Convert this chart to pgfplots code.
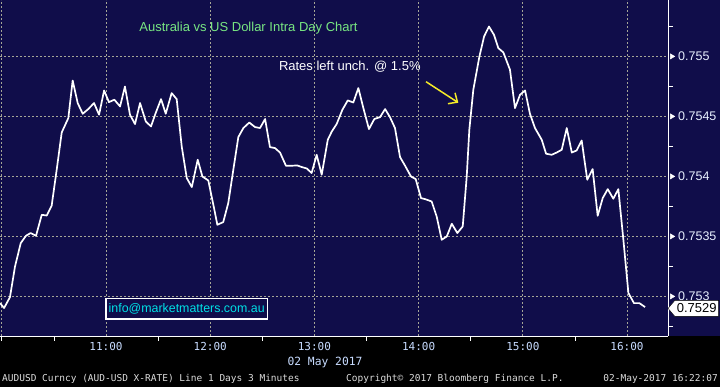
\documentclass[border=0pt]{standalone}
\usepackage{pgfplots}
\pgfplotsset{compat=1.18}
\usepackage{fontspec}
\setmainfont{Liberation Sans}
\newfontfamily\monofont{DejaVu Sans Mono}
\usetikzlibrary{arrows.meta,shapes.symbols}
\definecolor{navy}{RGB}{16,13,74}
\definecolor{gridc}{RGB}{165,165,150}
\definecolor{labc}{RGB}{200,220,255}
\definecolor{ylabc}{RGB}{232,240,255}
\definecolor{titlec}{RGB}{120,230,130}
\definecolor{mailc}{RGB}{0,225,230}
\definecolor{arrowc}{RGB}{245,235,40}
\definecolor{footc}{RGB}{220,220,220}

\pgfplotstableread{
x y
-1.0 0.752944
1.3 0.752903
4.7 0.752994
7.6 0.753249
10.9 0.753444
13.9 0.753505
16.6 0.753528
19.7 0.753505
23.0 0.753680
25.9 0.753674
28.7 0.753755
31.6 0.754055
34.5 0.754366
38.3 0.754486
40.8 0.754799
43.7 0.754611
46.6 0.754522
49.8 0.754561
53.1 0.754611
56.0 0.754514
58.9 0.754716
61.7 0.754619
64.8 0.754639
68.1 0.754583
70.9 0.754749
73.8 0.754514
76.7 0.754436
79.6 0.754611
82.9 0.754458
85.9 0.754416
88.6 0.754528
91.7 0.754644
94.4 0.754522
97.8 0.754694
100.7 0.754644
103.6 0.754249
106.5 0.753986
109.4 0.753911
112.8 0.754139
115.5 0.753999
118.9 0.753966
122.4 0.753722
124.1 0.753597
127.5 0.753619
130.4 0.753778
133.3 0.754055
136.2 0.754328
139.1 0.754403
142.5 0.754449
145.8 0.754411
148.7 0.754403
151.6 0.754478
154.4 0.754244
157.3 0.754236
160.2 0.754199
163.6 0.754089
166.9 0.754089
170.2 0.754091
172.7 0.754078
175.6 0.754066
178.4 0.754028
181.3 0.754180
184.2 0.754014
187.7 0.754305
190.0 0.754374
192.8 0.754436
196.1 0.754555
199.2 0.754633
202.4 0.754616
205.3 0.754736
208.2 0.754569
211.4 0.754394
214.5 0.754478
217.8 0.754494
220.7 0.754561
223.5 0.754494
226.4 0.754403
229.3 0.754161
232.2 0.754089
235.6 0.753999
238.3 0.753978
241.4 0.753819
243.7 0.753811
247.5 0.753791
250.4 0.753666
253.3 0.753472
256.2 0.753499
259.1 0.753605
262.3 0.753528
265.4 0.753583
267.7 0.753999
269.2 0.754389
271.5 0.754722
275.0 0.754999
277.7 0.755166
280.5 0.755249
283.4 0.755180
285.9 0.755069
288.8 0.755033
292.6 0.754889
295.5 0.754569
298.4 0.754680
301.3 0.754716
304.1 0.754522
307.0 0.754403
310.9 0.754305
313.4 0.754189
316.6 0.754180
319.5 0.754199
322.4 0.754222
325.3 0.754403
328.2 0.754199
331.0 0.754216
333.9 0.754299
337.1 0.753972
340.2 0.754061
343.1 0.753672
346.0 0.753819
348.9 0.753894
352.1 0.753814
355.0 0.753894
357.9 0.753472
360.8 0.753028
364.0 0.752944
367.1 0.752944
370.4 0.752911
}\audusd

\begin{document}
\begin{tikzpicture}
\useasboundingbox (0pt,0pt) rectangle (720pt,387pt);
\fill[black] (0pt,0pt) rectangle (720pt,51pt);
\fill[navy] (0pt,51pt) rectangle (720pt,387pt);
\begin{axis}[
  at={(0pt,51pt)}, anchor=south west,
  scale only axis, width=668pt, height=336pt,
  xmin=-1.04, xmax=383.6, ymin=0.75267, ymax=0.75547,
  axis x line*=bottom, axis y line*=right,
  axis line style={white, line width=0.8pt, -},
  xtick={0,60,120,180,240,300,360},
  xticklabels={,11:00,12:00,13:00,14:00,15:00,16:00},
  minor xtick={0,30,90,150,210,270,330},
  ytick={0.753,0.7535,0.754,0.7545,0.755},
  yticklabels={0.753,0.7535,0.754,0.7545,0.755},
  minor ytick={0.75275,0.75325,0.75375,0.75425,0.75475,0.75525},
  xmajorgrids, ymajorgrids,
  major grid style={dash pattern=on 2pt off 2pt, color=gridc, line width=0.7pt},
  tick align=outside, major tick length=0pt, minor tick length=5pt,
  tick style={white, line width=0.8pt},
  xticklabel style={font=\monofont\fontsize{11}{13}\selectfont, text=labc, anchor=north, inner sep=0pt, yshift=-6pt},
  yticklabel style={font=\fontsize{12.5}{14}\selectfont, text=ylabc, anchor=west, inner sep=0pt, xshift=10pt},
  clip=false,
]
\addplot[white, line width=1.7pt, line join=round] table[x=x,y=y] {\audusd};
\addplot[only marks, mark=triangle*, mark size=3pt, mark options={rotate=-90, fill=white, draw=white}]
  coordinates {(385.8,0.753) (385.8,0.7535) (385.8,0.754) (385.8,0.7545) (385.8,0.755)};
\node[signal, signal to=west, signal pointer angle=100, fill=white, draw=black, line width=0.4pt,
  text=black, font=\fontsize{13}{15}\selectfont, inner xsep=2pt, inner ysep=2pt, minimum height=16pt, anchor=west]
  at (axis cs:383.5,0.7529) {0.7529};
\end{axis}
\node[text=titlec, font=\fontsize{13}{15}\selectfont] at (248.5pt,358.7pt) {Australia vs US Dollar Intra Day Chart};
\node[text=white, font=\fontsize{13}{15}\selectfont] at (349.8pt,320.3pt) {Rates left unch. @ 1.5\%};
\draw[arrowc, line width=1.5pt, -{Straight Barb[length=7pt,width=13pt]}] (426pt,305.3pt) -- (458.3pt,284.3pt);
\draw[white, line width=1.4pt, fill=navy] (106pt,68pt) rectangle (267.3pt,88.3pt);
\node[text=mailc, font=\fontsize{12.4}{14}\selectfont] at (186.7pt,78pt) {info@marketmatters.com.au};
\node[text=labc, font=\monofont\fontsize{11.3}{13}\selectfont] at (325pt,24.3pt) {02 May 2017};
\node[text=footc, font=\monofont\fontsize{9.5}{11}\selectfont, anchor=west, inner sep=0pt] at (2pt,7.7pt) {AUDUSD Curncy (AUD-USD X-RATE) Line 1 Days 3 Minutes};
\node[text=footc, font=\monofont\fontsize{9.5}{11}\selectfont, anchor=west, inner sep=0pt] at (346pt,7.7pt) {Copyright© 2017 Bloomberg Finance L.P.};
\node[text=footc, font=\monofont\fontsize{9.5}{11}\selectfont, anchor=east, inner sep=0pt] at (718pt,7.7pt) {02-May-2017 16:22:07};
\end{tikzpicture}
\end{document}
